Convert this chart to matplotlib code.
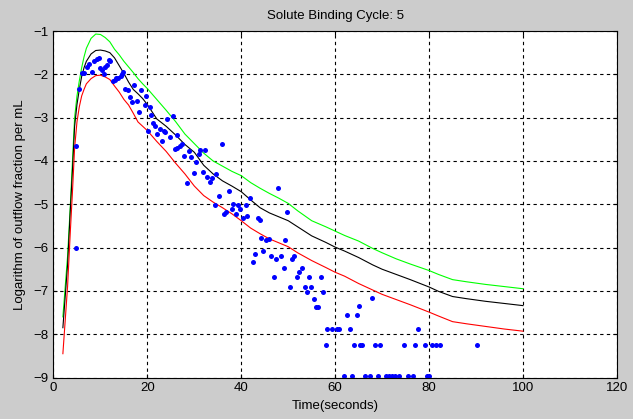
import matplotlib
matplotlib.use('Agg')
import matplotlib.pyplot as plt

plt.rcParams['font.family'] = ['Liberation Sans', 'DejaVu Sans']

# model curves (upper / mean / lower)
t_curve = [2, 3, 3.6, 4, 4.5, 5, 5.5, 6, 6.5, 7, 8, 9, 10, 11, 12, 13, 14, 15, 16, 17,
           18, 19, 20, 22, 24, 26, 28, 30, 32, 34, 36, 38, 40, 42, 44, 46, 48, 50, 52, 55,
           58, 60, 62, 65, 68, 70, 73, 76, 80, 82, 85, 88, 92, 96, 100]
upper = [-7.6, -6.2, -5.0, -4.1, -3.0, -2.5, -2.15, -1.85, -1.6, -1.4, -1.17, -1.07, -1.08,
         -1.15, -1.25, -1.42, -1.55, -1.7, -1.83, -1.96, -2.1, -2.22, -2.33, -2.58, -2.83,
         -3.09, -3.38, -3.6, -3.82, -4.0, -4.12, -4.24, -4.34, -4.5, -4.63, -4.75, -4.86,
         -4.98, -5.15, -5.38, -5.52, -5.62, -5.72, -5.85, -6.02, -6.12, -6.26, -6.38, -6.53,
         -6.62, -6.74, -6.79, -6.85, -6.9, -6.95]
mean = [-7.85, -6.4, -5.1, -4.3, -3.2, -2.7, -2.35, -2.05, -1.85, -1.7, -1.53, -1.45, -1.44,
        -1.46, -1.5, -1.62, -1.8, -1.98, -2.18, -2.35, -2.45, -2.56, -2.7, -3.03, -3.2,
        -3.4, -3.62, -3.8, -4.1, -4.3, -4.46, -4.58, -4.71, -4.9, -5.08, -5.2, -5.29,
        -5.38, -5.52, -5.73, -5.88, -5.99, -6.08, -6.23, -6.4, -6.5, -6.62, -6.74, -6.91,
        -7.01, -7.13, -7.18, -7.24, -7.29, -7.34]
lower = [-8.45, -6.9, -5.6, -4.8, -3.7, -3.1, -2.75, -2.5, -2.35, -2.22, -2.1, -2.03, -2.02,
         -2.06, -2.12, -2.27, -2.41, -2.58, -2.71, -2.9, -3.1, -3.2, -3.3, -3.55, -3.78,
         -4.05, -4.3, -4.58, -4.8, -4.95, -5.08, -5.22, -5.38, -5.55, -5.68, -5.8, -5.89,
         -5.98, -6.12, -6.3, -6.46, -6.57, -6.66, -6.83, -6.98, -7.08, -7.2, -7.32, -7.49,
         -7.58, -7.71, -7.76, -7.82, -7.88, -7.93]

# measured outflow points
t_obs = [4.7, 4.9, 5.5, 6.1, 6.6, 7.2, 7.5, 8.2, 8.6, 9.2, 9.6, 10.0, 10.4, 10.7, 10.9,
         11.4, 11.8, 12.1, 12.7, 13.0, 13.3, 13.7, 14.3, 14.5, 14.9, 15.3, 15.8, 16.2,
         16.7, 17.1, 17.8, 18.2, 18.7, 19.4, 19.8, 20.1, 20.5, 20.8, 21.3, 21.7, 22.1,
         22.6, 23.1, 23.5, 23.8, 24.2, 24.9, 25.4, 25.8, 26.3, 26.4, 27.0, 27.4, 27.7,
         28.4, 28.8, 29.3, 29.9, 30.4, 30.9,
         35.9, 31.3, 32.3, 31.8, 32.6, 33.3, 33.8, 34.7, 35.2, 37.4, 34.3, 36.4, 36.8,
         38.0, 38.2, 38.9, 39.4, 39.8, 40.4, 40.9, 41.3, 41.8, 43.5, 43.9, 43.0, 42.5,
         47.9, 49.7, 44.3, 45.3, 45.8, 44.7, 46.3, 47.4, 48.4, 49.3, 46.9, 49.0, 50.3,
         50.9, 51.3, 51.9, 52.3, 52.9, 53.5, 54.0, 54.5, 54.8, 55.4, 55.9, 56.3, 57.0,
         57.4, 67.8,
         65.1, 62.5, 64.6, 58.3, 59.4, 60.3, 60.8, 63.2, 77.6,
         58.0, 64.0, 65.3, 65.8, 68.4, 69.6, 74.7, 77.1, 79.1, 80.6, 81.5, 82.4, 90.2,
         61.9, 63.5, 66.4, 67.4, 69.1, 70.8, 71.5, 72.0, 72.7, 73.6, 75.6, 76.5, 79.6, 80.0]
y_obs = [-6.02, -3.65, -2.35, -1.98, -1.98, -1.84, -1.77, -1.94, -1.69, -1.65, -1.63, -1.86,
         -1.90, -2.0, -1.82, -1.78, -1.67, -1.70, -2.16, -2.13, -2.09, -2.08, -2.03, -2.0,
         -1.94, -2.33, -2.37, -2.52, -2.64, -2.25, -2.62, -2.87, -2.37, -2.70, -2.50, -3.30,
         -2.75, -2.95, -3.12, -3.19, -3.37, -3.26, -3.53, -3.32, -3.33, -3.04, -3.45, -2.96,
         -3.72, -3.70, -3.40, -3.66, -3.62, -3.88, -4.50, -3.76, -3.90, -4.28, -4.02, -3.84,
         -3.60, -3.74, -3.74, -4.25, -4.38, -4.48, -4.40, -4.30, -4.82, -4.69, -5.02, -5.23,
         -5.19, -5.12, -5.0, -5.23, -5.02, -5.12, -5.31, -5.02, -5.27, -4.85, -5.31, -5.37,
         -6.14, -6.34,
         -4.62, -5.17, -5.78, -5.83, -5.80, -6.09, -6.19, -6.26, -6.19, -5.83, -6.68, -6.48,
         -6.90, -6.26, -6.19, -6.68, -6.57, -6.48, -6.90, -7.02, -6.68, -6.90, -7.18, -7.37,
         -7.37, -6.68, -7.02, -7.17,
         -7.35, -7.55, -7.55, -7.87, -7.87, -7.87, -7.87, -7.87, -7.87,
         -8.25, -8.25, -8.25, -8.25, -8.25, -8.25, -8.25, -8.25, -8.25, -8.25, -8.25, -8.25,
         -8.25,
         -8.96, -8.96, -8.96, -8.96, -8.96, -8.96, -8.96, -8.96, -8.96, -8.96, -8.96, -8.96,
         -8.96, -8.96]

x_ticks = [0, 20, 40, 60, 80, 100, 120]
y_ticks = [-9, -8, -7, -6, -5, -4, -3, -2, -1]

fig = plt.figure(figsize=(6.33, 4.19), dpi=100, facecolor='#cccccc')
ax = fig.add_axes([0.0845, 0.099, 0.890, 0.827])
ax.set_facecolor('white')

ax.plot(t_curve, upper, color='#00ff00', linewidth=0.8)
ax.plot(t_curve, mean, color='black', linewidth=0.8)
ax.plot(t_curve, lower, color='#ff0000', linewidth=0.8)
ax.plot(t_obs, y_obs, 'o', color='#0000ff', markersize=3.6, markeredgewidth=0,
        clip_on=False)

ax.set_xlim(0, 120)
ax.set_ylim(-9, -1)
ax.set_xticks(x_ticks)
ax.set_yticks(y_ticks)
ax.grid(True, color='black', linestyle=(0, (3, 3)), linewidth=0.8)
ax.tick_params(direction='in', length=3, labelsize=9.5, top=True, right=True,
               colors='black')
for s in ax.spines.values():
    s.set_color('black')
    s.set_linewidth(0.8)

ax.set_title('Solute Binding Cycle: 5', fontsize=9.5, pad=9)
ax.set_xlabel('Time(seconds)', fontsize=9.5, labelpad=4)
ax.set_ylabel('Logarithm of outflow fraction per mL', fontsize=9.5, labelpad=5)

fig.savefig('out.png', dpi=100, facecolor=fig.get_facecolor())
